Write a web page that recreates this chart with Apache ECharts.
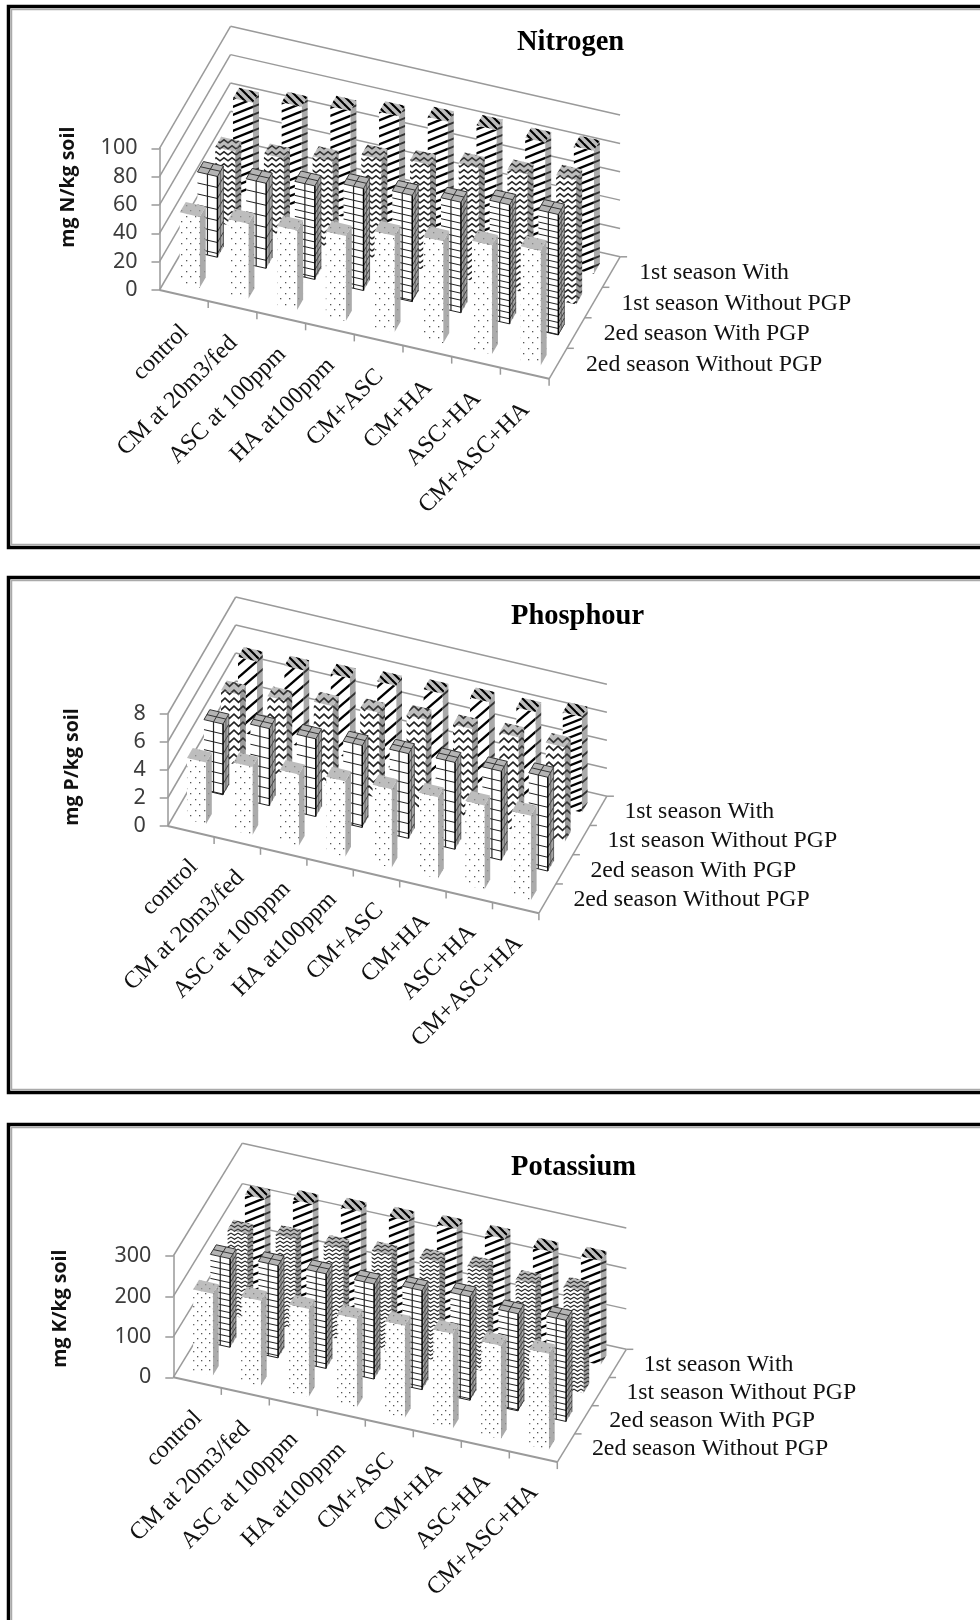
<!DOCTYPE html>
<html><head><meta charset="utf-8">
<style>html,body{margin:0;padding:0;background:#fff}#c{width:980px;height:1620px}</style>
<script src="https://cdn.jsdelivr.net/npm/echarts@6/dist/echarts.min.js"></script>
</head><body><div id="c"></div>
<script>
const categories = ['control','CM at 20m3/fed','ASC at 100ppm','HA at100ppm','CM+ASC','CM+HA','ASC+HA','CM+ASC+HA'];
const seasons = ['2ed season Without PGP','2ed season With PGP','1st season Without PGP','1st season With'];

const nitrogen2ndWithout = [50,53,56,60,68,72,77,81];
const nitrogen2ndWith    = [57,60,66,72,75,78,84,85];
const nitrogen1stWithout = [53,56,62,71,75,81,84,88];
const nitrogen1stWith    = [66,71,76,80,84,86,85,87];

const phosphorus2ndWithout = [4.4,4.85,5.1,5.4,5.6,5.8,6.0,6.05];
const phosphorus2ndWith    = [5.05,5.5,5.55,5.85,6.05,6.2,6.35,6.7];
const phosphorus1stWithout = [5.05,5.4,5.8,6.1,6.4,6.5,6.7,6.75];
const phosphorus1stWith    = [5.35,5.5,5.7,5.95,6.15,6.35,6.4,6.85];

const potassium2ndWithout = [202,211,217,219,228,234,231,237];
const potassium2ndWith    = [219,228,234,235,245,256,240,250];
const potassium1stWithout = [211,224,226,236,246,253,244,253];
const potassium1stWith    = [227,241,248,252,258,260,254,258];

const nitrogenTicks = [0,20,40,60,80,100];
const phosphorusTicks = [0,2,4,6,8];
const potassiumTicks = [0,100,200,300];

/* ---- tile helpers ---- */
function tile(w,h,bg,fn){const c=document.createElement('canvas');c.width=w;c.height=h;const g=c.getContext('2d');g.fillStyle=bg;g.fillRect(0,0,w,h);fn(g,w,h);return {image:c,repeat:'repeat'};}
function stripes(period,slope,thick,bg,col){
  const tw=Math.round(period/Math.abs(slope));
  return tile(tw,period,bg,(g,w,h)=>{g.strokeStyle=col;g.lineWidth=thick;
    for(let k=-2;k<=2;k++){g.beginPath();
      if(slope>0){g.moveTo(-w,h*(k+1)+h);g.lineTo(2*w,h*(k+1)-2*h);}else{g.moveTo(-w,h*k-h);g.lineTo(2*w,h*k+2*h);}
      g.stroke();}});
}
function zig(w,h,bg,col,lw){return tile(w,h,bg,(g)=>{g.strokeStyle=col;g.lineWidth=lw;
  g.beginPath();g.moveTo(-1,h*.15);g.lineTo(w/2,h*.8);g.lineTo(w+1,h*.15);g.stroke();});}
function dots(w,h,bg,col){return tile(w,h,bg,(g)=>{g.fillStyle=col;
  g.fillRect(1,1,1.3,1.3);g.fillRect(Math.round(w/2)+1,Math.round(h/2)+1,1.3,1.3);});}

const panels=[
 {title:'Nitrogen',titleX:517,titleY:28,yName:'mg N/kg soil',nameGap:81,nameShift:32,
  ox:159.5,y0:290,ex:48.7,slope:11.1,dx:17.75,dy:-30.5,height:141.7,ticks:nitrogenTicks,interval:20,
  rows:[nitrogen2ndWithout,nitrogen2ndWith,nitrogen1stWithout,nitrogen1stWith],
  gridSteps:[11,11,7,7,7,7,6,6],stripe:[8,.4],shallowLast:false,zigH:6,zigW:8,zigL:1.5,dot:[9,11],labelOff:[1,33],depthOff:[28,1]},
 {title:'Phosphour',titleX:511,titleY:602,yName:'mg P/kg soil',nameGap:85,nameShift:3,
  ox:167.7,y0:826,ex:46.4,slope:10.9,dx:17,dy:-29.25,height:112,ticks:phosphorusTicks,interval:2,
  rows:[phosphorus2ndWithout,phosphorus2ndWith,phosphorus1stWithout,phosphorus1stWith],
  gridSteps:[10,10,10,10,10,10,10,10],stripe:[13,.86],shallowLast:true,zigH:8,zigW:9,zigL:1.7,dot:[9,11],labelOff:[3,32],depthOff:[26,1]},
 {title:'Potassium',titleX:511,titleY:1153,yName:'mg K/kg soil',nameGap:103,nameShift:8,
  ox:173.3,y0:1377.3,ex:48,slope:10.6,dx:17.25,dy:-28.2,height:121.3,ticks:potassiumTicks,interval:100,
  rows:[potassium2ndWithout,potassium2ndWith,potassium1stWithout,potassium1stWith],
  gridSteps:[6,6,6,6,6,6,6,6],stripe:[8,.4],shallowLast:false,zigH:4,zigW:7,zigL:1.2,dot:[8,9],labelOff:[1,32],depthOff:[26,1]}
];
const barW=.41, barD=.34, nRows=4, nCats=8;

function makeProj(api,p){return (c,r,v)=>{const q=api.coord([c,v]);return [q[0]+r*p.dx,q[1]+c*p.slope+r*p.dy];};}
const poly=(pts,style)=>({type:'polygon',shape:{points:pts},style});
const seg=(a,b,stroke,lineWidth)=>({type:'line',shape:{x1:a[0],y1:a[1],x2:b[0],y2:b[1]},style:{stroke,lineWidth}});
const lerp=(a,b,t)=>[a[0]+(b[0]-a[0])*t,a[1]+(b[1]-a[1])*t];

const series=[],grids=[],xAxes=[],yAxes=[],titles=[];
panels.forEach((p,pi)=>{
  grids.push({left:p.ox,top:p.y0-p.height,width:p.ex*nCats,height:p.height,containLabel:false});
  xAxes.push({gridIndex:pi,type:'value',min:0,max:nCats,interval:1,show:false});
  yAxes.push({gridIndex:pi,type:'value',min:0,max:p.ticks[p.ticks.length-1],interval:p.interval,
    axisLine:{show:true,lineStyle:{color:'#999',width:1.5}},axisTick:{show:true,inside:false,length:8,lineStyle:{color:'#999',width:1.5}},
    splitLine:{show:false},
    axisLabel:{margin:22,color:'#3c3c3c',fontFamily:'Noto Sans',fontSize:21.5},
    name:p.yName,nameLocation:'middle',nameGap:p.nameGap,
    nameTextStyle:{color:'#111',fontFamily:'Open Sans',fontWeight:'bold',fontSize:19.5,padding:[0,0,0,2*p.nameShift]}});
  titles.push({text:p.title,left:p.titleX,top:p.titleY,padding:0,textStyle:{fontFamily:'Liberation Serif',fontWeight:'bold',fontSize:28.5,color:'#000'}});
  const base={type:'custom',coordinateSystem:'cartesian2d',xAxisIndex:pi,yAxisIndex:pi,silent:true,animation:false,clip:false};

  series.push(Object.assign({},base,{name:p.title+' walls',z:1,data:p.ticks.map(v=>[0,v]),encode:{x:0,y:1},
    renderItem(params,api){const P=makeProj(api,p),v=api.value(1);
      return {type:'group',children:[seg(P(0,0,v),P(0,nRows,v),'#9a9a9a',1.5),seg(P(0,nRows,v),P(nCats,nRows,v),'#9a9a9a',1.5)]};}}));
  series.push(Object.assign({},base,{name:p.title+' floor',z:1,data:[[0,0]],encode:{x:0,y:1},
    renderItem(params,api){const P=makeProj(api,p),ch=[];
      ch.push(seg(P(0,0,0),P(nCats,0,0),'#9a9a9a',2));
      ch.push(seg(P(nCats,0,0),P(nCats,nRows,0),'#9a9a9a',1.5));
      for(let c=1;c<=nCats;c++){const a=P(c,0,0);ch.push(seg(a,[a[0],a[1]+7],'#9a9a9a',1.5));}
      for(let r=1;r<=nRows;r++){const a=P(nCats,r,0);ch.push(seg(a,[a[0]+7,a[1]],'#9a9a9a',1.5));}
      return {type:'group',children:ch};}}));

  const tl={
    dot:{front:dots(p.dot[0],p.dot[1],'#fff','#555'),side:dots(p.dot[0],p.dot[1],'#ababab','#8a8a8a'),top:dots(p.dot[0],p.dot[1],'#bdbdbd','#888')},
    zig:{front:zig(p.zigW,p.zigH,'#fff','#222',p.zigL),side:zig(p.zigW,p.zigH,'#9a9a9a','#333',p.zigL),top:zig(p.zigW,p.zigH,'#bdbdbd','#333',p.zigL)},
    str:{front:stripes(p.stripe[0],p.stripe[1],2.4,'#fff','#000'),side:stripes(p.stripe[0],p.stripe[1],2,'#aaa','#333'),top:stripes(8,-1,2.1,'#bcbcbc','#000')}
  };
  const shallow=stripes(7,.4,2.2,'#fff','#000');
  for(let row=nRows-1;row>=0;row--){
    series.push(Object.assign({},base,{name:seasons[row],z:2,data:p.rows[row].map((v,i)=>[i,v]),encode:{x:0,y:1},
      renderItem(params,api){
        const P=makeProj(api,p),i=api.value(0),v=api.value(1);
        const c0=i+.5-barW/2,c1=i+.5+barW/2,r0=row+.5-barD/2,r1=row+.5+barD/2;
        const A=P(c0,r0,v),B=P(c1,r0,v),C=P(c1,r0,0),D=P(c0,r0,0),E=P(c1,r1,v),F=P(c1,r1,0),G=P(c0,r1,v);
        const ch=[];
        if(row===1){
          ch.push(poly([A,B,C,D],{fill:'#fff'}),poly([B,E,F,C],{fill:'#a6a6a6'}),poly([A,B,E,G],{fill:'#b4b4b4',stroke:'#333',lineWidth:1}));
          const h=D[1]-A[1],step=p.gridSteps[i],n=Math.floor(h/step);
          for(let k=1;k<=n;k++){const t=k*step/h;
            const L=lerp(A,D,t),Rr=lerp(B,C,t),S=lerp(E,F,t);
            ch.push(seg(L,Rr,'#222',1),seg(Rr,S,'#333',.9));}
          ch.push(seg(lerp(A,B,.5),lerp(D,C,.5),'#222',1.2),seg(B,C,'#000',1.5),seg(lerp(B,E,.5),lerp(C,F,.5),'#555',.8),seg(E,F,'#444',.8));
          ch.push(seg(lerp(A,B,.5),lerp(G,E,.5),'#333',1),seg(lerp(A,G,.5),lerp(B,E,.5),'#333',1));
          ch.push(seg(D,C,'#222',1));
        } else {
          const s=row===0?tl.dot:(row===2?tl.zig:tl.str);
          const front=(row===3&&p.shallowLast&&i===nCats-1)?shallow:s.front;
          ch.push(poly([B,E,F,C],{fill:s.side}),poly([A,B,C,D],{fill:front}),poly([A,B,E,G],{fill:s.top}));
        }
        return {type:'group',children:ch};}}));
  }
  series.push(Object.assign({},base,{name:p.title+' categories',z:3,data:categories.map((n,i)=>[i,0]),encode:{x:0,y:1},
    renderItem(params,api){const P=makeProj(api,p),i=api.value(0),a=P(i+.5,0,0);
      return {type:'text',x:a[0]+p.labelOff[0],y:a[1]+p.labelOff[1],rotation:Math.PI/4,
        style:{text:categories[i],fill:'#111',font:'24px "Liberation Serif"',textAlign:'right',textVerticalAlign:'middle'}};}}));
  series.push(Object.assign({},base,{name:p.title+' depth labels',z:3,data:seasons.map((n,i)=>[i,0]),encode:{x:0,y:1},
    renderItem(params,api){const P=makeProj(api,p),r=api.value(0),a=P(nCats,r+.5,0);
      return {type:'text',x:a[0]+p.depthOff[0],y:a[1]+p.depthOff[1],
        style:{text:seasons[r],fill:'#111',font:'23.8px "Liberation Serif"',textAlign:'left',textVerticalAlign:'middle'}};}}));
});

const frames=[[5,549],[576,1094],[1123,1700]];
const graphic=[];
frames.forEach(([t,b])=>{
  graphic.push({type:'rect',silent:true,z:-1,shape:{x:8.5,y:t+1.5,width:1100,height:b-t-3},style:{fill:'#fff',stroke:'#000',lineWidth:3.5}});
  graphic.push({type:'rect',silent:true,z:-1,shape:{x:11.5,y:t+4.5,width:1100,height:b-t-9},style:{fill:'#fff',stroke:'#aaa',lineWidth:1.5}});
});

const chart=echarts.init(document.getElementById('c'),null,{renderer:'canvas'});
chart.setOption({animation:false,backgroundColor:'#fff',title:titles,grid:grids,xAxis:xAxes,yAxis:yAxes,series,graphic,tooltip:{show:false},legend:{show:false}});
</script></body></html>
